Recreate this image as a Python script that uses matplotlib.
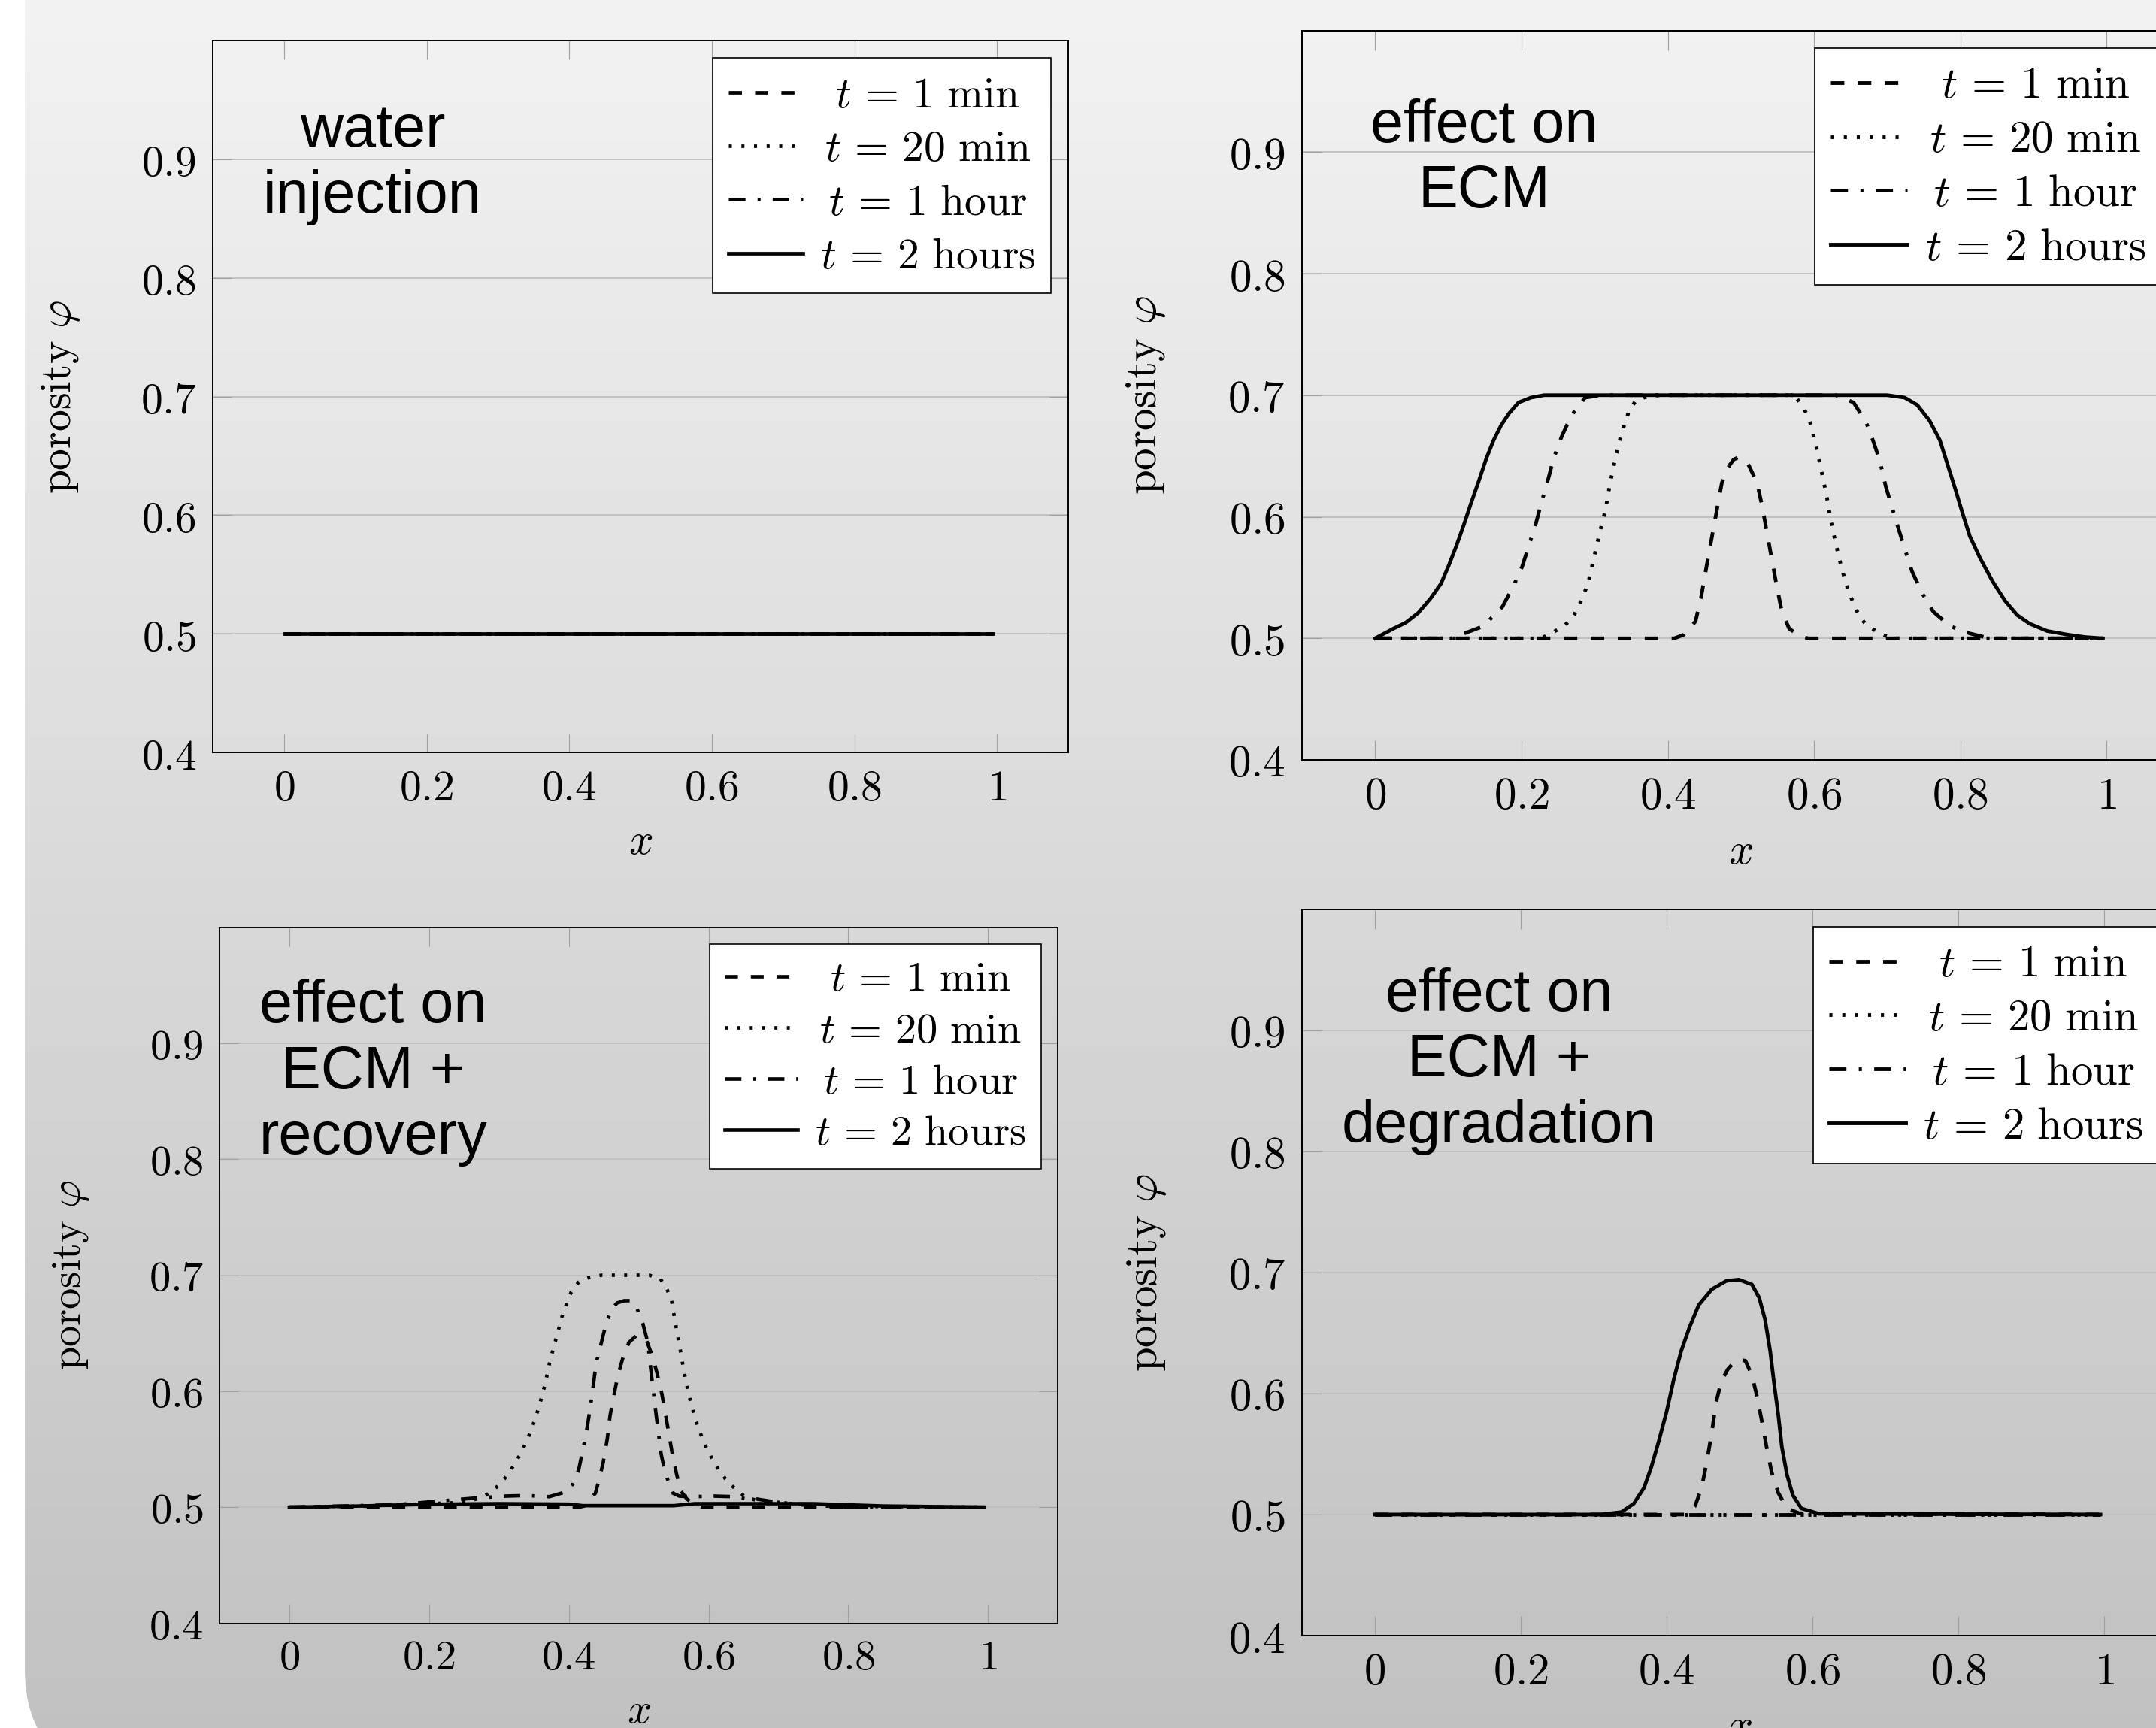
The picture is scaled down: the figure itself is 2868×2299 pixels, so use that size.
import matplotlib.pyplot as plt
import numpy as np
from matplotlib.patches import FancyBboxPatch

# 公式字体用 Computer Modern，接近 LaTeX 原图
plt.rcParams['mathtext.fontset'] = 'cm'

W, H = 2868, 2299

# 刻度与图例文字
x_ticks = [0, 0.2, 0.4, 0.6, 0.8, 1]
y_ticks = [0.4, 0.5, 0.6, 0.7, 0.8, 0.9]
legend_labels = [r'$t\,=\,1\ \mathrm{min}$', r'$t\,=\,20\ \mathrm{min}$',
                 r'$t\,=\,1\ \mathrm{hour}$', r'$t\,=\,2\ \mathrm{hours}$']
titles = ['water\ninjection', 'effect on\nECM', 'effect on\nECM +\nrecovery',
          'effect on\nECM +\ndegradation']

# 水平直线（孔隙度不变）
flat_x = [0.0, 0.995]
flat_y = [0.5, 0.5]

# effect on ECM
ecm_1min_x = [0.0, 0.409, 0.422, 0.438, 0.446, 0.453, 0.460, 0.467, 0.474, 0.484,
              0.490, 0.497, 0.504, 0.511, 0.522, 0.529, 0.535, 0.542, 0.549, 0.556,
              0.566, 0.580, 0.592, 0.995]
ecm_1min_y = [0.5, 0.5, 0.503, 0.514, 0.535, 0.559, 0.582, 0.605, 0.628, 0.642,
              0.647, 0.649, 0.647, 0.642, 0.628, 0.609, 0.589, 0.566, 0.543, 0.522,
              0.508, 0.502, 0.5, 0.5]
ecm_20min_x = [0.0, 0.227, 0.243, 0.258, 0.270, 0.278, 0.285, 0.291, 0.299, 0.307,
               0.315, 0.321, 0.328, 0.336, 0.347, 0.357, 0.373, 0.390, 0.565, 0.577,
               0.587, 0.594, 0.603, 0.610, 0.617, 0.623, 0.630, 0.638, 0.648, 0.662,
               0.673, 0.688, 0.705, 0.995]
ecm_20min_y = [0.5, 0.5, 0.505, 0.510, 0.517, 0.526, 0.536, 0.545, 0.566, 0.587,
               0.606, 0.627, 0.647, 0.667, 0.687, 0.696, 0.699, 0.7, 0.7, 0.697,
               0.688, 0.679, 0.658, 0.638, 0.618, 0.597, 0.577, 0.557, 0.537, 0.518,
               0.510, 0.505, 0.5, 0.5]
ecm_1h_x = [0.0, 0.104, 0.126, 0.148, 0.174, 0.189, 0.201, 0.220, 0.227, 0.237,
            0.244, 0.255, 0.268, 0.287, 0.310, 0.630, 0.654, 0.671, 0.681, 0.690,
            0.698, 0.708, 0.715, 0.726, 0.734, 0.748, 0.763, 0.786, 0.813, 0.840, 0.995]
ecm_1h_y = [0.5, 0.5, 0.505, 0.510, 0.526, 0.543, 0.559, 0.595, 0.611, 0.632,
            0.648, 0.666, 0.683, 0.698, 0.7, 0.7, 0.694, 0.678, 0.662, 0.646,
            0.625, 0.605, 0.591, 0.570, 0.555, 0.537, 0.522, 0.510, 0.504, 0.5, 0.5]
ecm_2h_x = [0.0, 0.025, 0.042, 0.059, 0.076, 0.090, 0.100, 0.111, 0.121, 0.131,
            0.142, 0.152, 0.162, 0.172, 0.183, 0.196, 0.213, 0.231, 0.700, 0.724,
            0.741, 0.758, 0.772, 0.782, 0.793, 0.803, 0.813, 0.827, 0.844, 0.861,
            0.878, 0.895, 0.919, 0.947, 0.971, 0.995]
ecm_2h_y = [0.5, 0.508, 0.513, 0.521, 0.533, 0.545, 0.559, 0.576, 0.593, 0.611,
            0.630, 0.648, 0.663, 0.675, 0.685, 0.694, 0.698, 0.7, 0.7, 0.698,
            0.692, 0.679, 0.663, 0.644, 0.623, 0.603, 0.584, 0.566, 0.547, 0.531,
            0.519, 0.512, 0.506, 0.503, 0.501, 0.5]

# effect on ECM + recovery
rec_1min_x = [0.0, 0.415, 0.422, 0.438, 0.443, 0.449, 0.455, 0.459, 0.465, 0.470,
              0.477, 0.486, 0.497, 0.511, 0.519, 0.526, 0.533, 0.538, 0.543, 0.548,
              0.554, 0.560, 0.569, 0.580, 0.590, 0.995]
rec_1min_y = [0.5, 0.5, 0.501, 0.512, 0.523, 0.538, 0.559, 0.579, 0.598, 0.613,
              0.628, 0.642, 0.648, 0.644, 0.631, 0.616, 0.598, 0.581, 0.564, 0.546,
              0.529, 0.514, 0.507, 0.502, 0.5, 0.5]
rec_20min_x = [0.0, 0.12, 0.199, 0.246, 0.275, 0.291, 0.303, 0.314, 0.323, 0.332,
               0.346, 0.357, 0.366, 0.373, 0.382, 0.391, 0.403, 0.414, 0.429, 0.447,
               0.515, 0.531, 0.541, 0.547, 0.553, 0.559, 0.565, 0.572, 0.581, 0.593,
               0.608, 0.628, 0.654, 0.669, 0.702, 0.750, 0.995]
rec_20min_y = [0.5, 0.501, 0.503, 0.504, 0.508, 0.514, 0.521, 0.529, 0.538, 0.547,
               0.566, 0.586, 0.606, 0.626, 0.646, 0.666, 0.685, 0.694, 0.698, 0.7,
               0.7, 0.697, 0.687, 0.678, 0.657, 0.637, 0.616, 0.596, 0.576, 0.556,
               0.538, 0.521, 0.508, 0.506, 0.504, 0.501, 0.5]
rec_1h_x = [0.0, 0.15, 0.27, 0.310, 0.339, 0.372, 0.395, 0.406, 0.414, 0.420,
            0.426, 0.431, 0.435, 0.439, 0.447, 0.454, 0.463, 0.469, 0.479, 0.488,
            0.497, 0.506, 0.513, 0.517, 0.524, 0.532, 0.538, 0.549, 0.558, 0.576,
            0.608, 0.637, 0.655, 0.669, 0.700, 0.800, 0.995]
rec_1h_y = [0.5, 0.502, 0.508, 0.5095, 0.510, 0.509, 0.513, 0.520, 0.532, 0.549,
            0.568, 0.587, 0.605, 0.624, 0.643, 0.660, 0.672, 0.676, 0.678, 0.678,
            0.672, 0.658, 0.642, 0.620, 0.584, 0.546, 0.529, 0.512, 0.5095, 0.509,
            0.5095, 0.509, 0.507, 0.507, 0.504, 0.5, 0.5]
rec_2h_x = [0.0, 0.1, 0.2, 0.3, 0.4, 0.42, 0.45, 0.55, 0.58, 0.65, 0.75, 0.85, 0.995]
rec_2h_y = [0.5, 0.501, 0.5025, 0.503, 0.5026, 0.5013, 0.5013, 0.5013, 0.503, 0.503,
            0.503, 0.501, 0.5]

# effect on ECM + degradation
deg_1min_x = [0.0, 0.424, 0.439, 0.448, 0.455, 0.462, 0.468, 0.475, 0.484, 0.496,
              0.508, 0.517, 0.523, 0.530, 0.537, 0.544, 0.553, 0.565, 0.582, 0.995]
deg_1min_y = [0.5, 0.5, 0.507, 0.522, 0.543, 0.568, 0.593, 0.610, 0.620, 0.628,
              0.627, 0.615, 0.600, 0.579, 0.556, 0.535, 0.518, 0.505, 0.501, 0.5]
deg_2h_x = [0.0, 0.310, 0.338, 0.355, 0.369, 0.379, 0.389, 0.400, 0.410, 0.420,
            0.431, 0.444, 0.462, 0.482, 0.499, 0.517, 0.527, 0.535, 0.542, 0.547,
            0.553, 0.558, 0.565, 0.573, 0.585, 0.609, 0.995]
deg_2h_y = [0.5, 0.5, 0.502, 0.509, 0.522, 0.539, 0.560, 0.585, 0.612, 0.635,
            0.654, 0.673, 0.686, 0.693, 0.694, 0.690, 0.679, 0.661, 0.635, 0.610,
            0.583, 0.556, 0.533, 0.516, 0.505, 0.5006, 0.5]

# 四条曲线的线型：虚线、点线、点划线、实线
styles = [(0, (3.7, 3.7)), (0, (0.85, 2.7)), (0, (4.7, 3.4, 0.85, 3.4)), '-']

fig = plt.figure(figsize=(W / 100, H / 100), dpi=100, facecolor='white')

# 灰色渐变背景，左下角为圆角
bg = fig.add_axes([0, 0, 1, 1], zorder=-5)
bg.axis('off')
bg.set_xlim(0, W)
bg.set_ylim(0, H)
grad = np.linspace(193, 242, 256)[:, None]
im = bg.imshow(grad, extent=(0, W, 0, H), origin='lower', cmap='gray',
               vmin=0, vmax=255, aspect='auto', interpolation='bilinear')
card = FancyBboxPatch((33, -58), W + 300, H + 300,
                      boxstyle='round,pad=0,rounding_size=137',
                      transform=bg.transData, facecolor='none', edgecolor='none')
bg.add_patch(card)
im.set_clip_path(card)


def panel(px, title, title_xy, curves):
    left, top, right, bottom = px
    s = (right - left) / 1.2 / 948.3
    ax = fig.add_axes([left / W, (H - bottom) / H, (right - left) / W, (bottom - top) / H])
    ax.set_facecolor('none')
    for (xs, ys), ls, lab in zip(curves, styles, legend_labels):
        ax.plot(xs, ys, color='black', lw=3.4 * s, linestyle=ls, label=lab)
    ax.set_xlim(-0.1, 1.1)
    ax.set_ylim(0.4, 1.0)
    ax.set_xticks(x_ticks)
    ax.set_xticklabels([f'${v:g}$' for v in x_ticks])
    ax.set_yticks(y_ticks)
    ax.set_yticklabels([f'${v:g}$' for v in y_ticks])
    fs = 41.5 * s
    ax.tick_params(axis='x', direction='in', top=True, bottom=True, length=18 * s,
                   width=0.8 * s, color='#a0a0a0', pad=14 * s, labelsize=fs)
    ax.tick_params(axis='y', direction='in', left=True, right=True, length=18 * s,
                   width=0.8 * s, color='#a0a0a0', pad=15.5 * s, labelsize=fs)
    ax.yaxis.grid(True, color='#bfbfbf', lw=1.3 * s)
    ax.set_axisbelow(True)
    for sp in ax.spines.values():
        sp.set_linewidth(1.4 * s)
    ax.set_xlabel('$x$', fontsize=fs, va='baseline')
    ax.xaxis.set_label_coords(0.5, -0.1426)
    ax.set_ylabel(r'$\mathrm{porosity}\ \varphi$', fontsize=fs)
    ax.yaxis.set_label_coords(-0.153, 0.5)
    ax.text(title_xy[0], title_xy[1], title, ha='center', va='center',
            multialignment='center', fontsize=57, family='Liberation Sans',
            linespacing=1.22)
    leg = ax.legend(loc='upper right', bbox_to_anchor=(1, 1), fontsize=fs,
                    handlelength=1.72, handletextpad=0.4, borderpad=0.36,
                    labelspacing=0.25, borderaxespad=0.4, fancybox=False,
                    framealpha=1, edgecolor='black')
    leg.get_frame().set_linewidth(1.2 * s)
    return leg


legs = [
    panel((283, 54, 1421, 1001), titles[0], (0.124, 0.896),
          [(flat_x, flat_y)] * 4),
    panel((1732, 40.5, 2899.6, 1011), titles[1], (0.1486, 0.894),
          [(ecm_1min_x, ecm_1min_y), (ecm_20min_x, ecm_20min_y),
           (ecm_1h_x, ecm_1h_y), (ecm_2h_x, ecm_2h_y)]),
    panel((292, 1233.5, 1407.3, 2159.5), titles[2], (0.1198, 0.8746),
          [(rec_1min_x, rec_1min_y), (rec_20min_x, rec_20min_y),
           (rec_1h_x, rec_1h_y), (rec_2h_x, rec_2h_y)]),
    panel((1732, 1209.5, 2896, 2176), titles[3], (0.170, 0.8743),
          [(deg_1min_x, deg_1min_y), (flat_x, flat_y),
           (flat_x, flat_y), (deg_2h_x, deg_2h_y)]),
]

# 图例文字居中（原图各行文字居中排列）
fig.canvas.draw()
renderer = fig.canvas.get_renderer()
for leg in legs:
    widths = [t.get_window_extent(renderer).width for t in leg.get_texts()]
    rows = [row for col in leg._legend_handle_box.get_children() for row in col.get_children()]
    for row, w in zip(rows, widths):
        row.sep += (max(widths) - w) / 2 * 72 / fig.dpi

fig.savefig('out.png', dpi=100, facecolor='white')
